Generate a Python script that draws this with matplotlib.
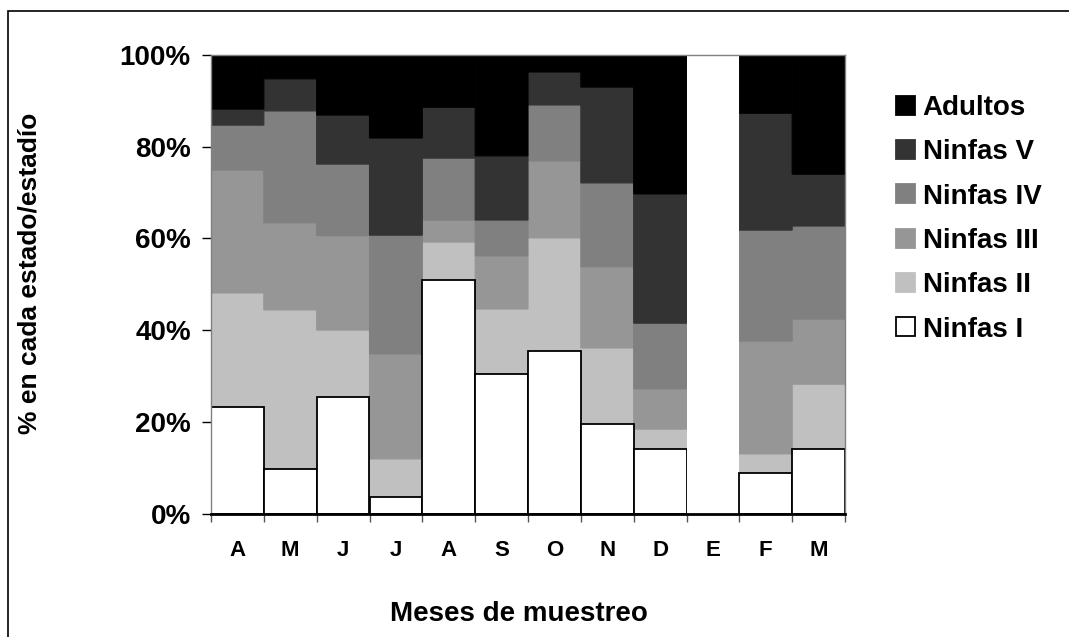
import numpy as np
import matplotlib.pyplot as plt
from matplotlib.patches import Rectangle, Patch

plt.rcParams['font.family'] = ['Liberation Sans', 'DejaVu Sans']
plt.rcParams['font.weight'] = 'bold'

months = ["A", "M", "J", "J", "A", "S", "O", "N", "D", "E", "F", "M"]

# porcentaje de cada estadio por mes
ninfas_1 = [23.2, 9.8, 25.3, 3.7, 50.9, 30.4, 35.4, 19.5, 14.0, 100.0, 8.8, 14.0]
ninfas_2 = [24.9, 34.6, 14.7, 8.2, 8.3, 14.2, 24.7, 16.6, 4.4, 0.0, 4.2, 14.2]
ninfas_3 = [26.8, 19.0, 20.6, 22.9, 4.8, 11.6, 16.8, 17.7, 8.8, 0.0, 24.6, 14.2]
ninfas_4 = [9.8, 24.4, 15.6, 25.9, 13.5, 7.8, 12.2, 18.3, 14.3, 0.0, 24.2, 20.3]
ninfas_5 = [3.5, 7.0, 10.7, 21.2, 11.1, 14.0, 7.2, 20.9, 28.2, 0.0, 25.5, 11.3]
adultos = [11.8, 5.2, 13.1, 18.1, 11.4, 22.0, 3.7, 7.0, 30.3, 0.0, 12.7, 26.0]

series = [ninfas_1, ninfas_2, ninfas_3, ninfas_4, ninfas_5, adultos]
labels = ["Ninfas I", "Ninfas II", "Ninfas III", "Ninfas IV", "Ninfas V", "Adultos"]
colors = ["white", "#c0c0c0", "#969696", "#808080", "#333333", "black"]

fig = plt.figure(figsize=(10.69, 6.37), dpi=100)
ax = fig.add_axes([211 / 1069, 1 - 513.5 / 637, 634 / 1069, 458.5 / 637])

x = np.arange(len(months))
bottom = np.zeros(len(months))
for i, (vals, col) in enumerate(zip(series, colors)):
    vals = np.array(vals)
    if i == 0:
        edges = ["none" if v >= 100 else "black" for v in vals]
        ax.bar(x, vals, bottom=bottom, width=1.0, color=col, edgecolor=edges, linewidth=1.3, zorder=2)
    else:
        # borde del mismo color para tapar las juntas entre barras
        bars = ax.bar(x, vals, bottom=bottom, width=1.0, color=col, edgecolor=col, linewidth=0.8, zorder=1)
        for b in bars:
            b.set_snap(False)
    bottom += vals

ax.set_xlim(-0.5, len(months) - 0.5)
ax.set_ylim(0, 100)

ax.set_yticks(np.arange(0, 101, 20))
ax.set_yticklabels([f"{v}%" for v in range(0, 101, 20)], fontsize=20, fontweight="bold")
ax.tick_params(axis="y", length=6.5, width=1, color="black", pad=8)

ax.set_xticks(np.arange(-0.5, len(months), 1.0))
ax.set_xticklabels([])
ax.set_xticks(x, minor=True)
ax.set_xticklabels(months, minor=True, fontsize=16, fontweight="bold")
ax.tick_params(axis="x", which="major", length=6, width=1, color="#555555")
ax.tick_params(axis="x", which="minor", length=0, pad=19)

for s in ["left", "right", "top"]:
    ax.spines[s].set_color("#808080")
    ax.spines[s].set_linewidth(1)
ax.spines["bottom"].set_color("black")
ax.spines["bottom"].set_linewidth(2)
ax.spines["bottom"].set_zorder(3)

ax.set_ylabel("% en cada estado/estadío", fontsize=19, fontweight="bold")
ax.yaxis.set_label_coords(-0.267, 0.5245)
ax.set_xlabel("Meses de muestreo", fontsize=20, fontweight="bold")
ax.xaxis.set_label_coords(0.486, -0.219)
ax.xaxis.label.set_va("center")

handles = [Patch(facecolor=c, edgecolor="black" if c == "white" else c, linewidth=1.3)
           for c in colors]
leg = fig.legend(handles[::-1], labels[::-1], loc="upper left",
                 bbox_to_anchor=(896 / 1069, 1 - 95 / 637), frameon=False,
                 prop={"size": 20, "weight": "bold"}, handlelength=0.68, handleheight=0.68,
                 handletextpad=0.28, labelspacing=0.66, borderaxespad=0, borderpad=0)

fig.patches.append(Rectangle((8 / 1069, -0.1), 1.2, 1 - 11 / 637 + 0.1, transform=fig.transFigure,
                             fill=False, edgecolor="black", linewidth=1.2))

fig.savefig("out.png", dpi=100)
